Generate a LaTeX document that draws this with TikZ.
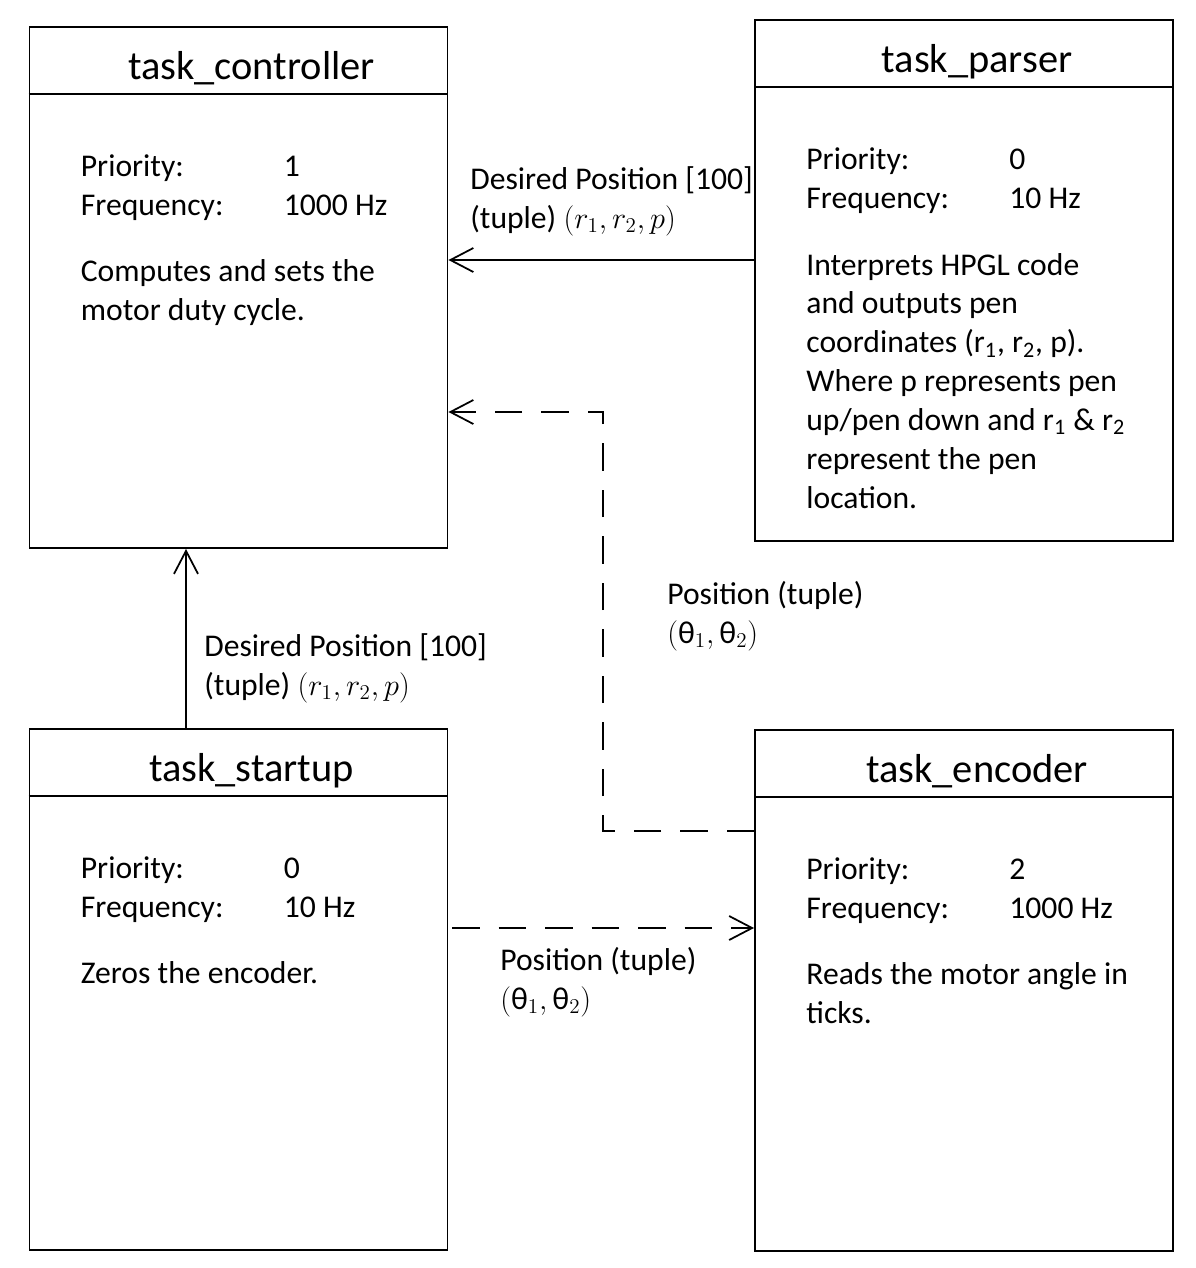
\documentclass[tikz,border=0pt]{standalone}
\usepackage{amsmath}
\usepackage{fontspec}
\setmainfont{Carlito}
\usetikzlibrary{arrows.meta, positioning, calc}
\definecolor{InkBlack}{HTML}{000000}
\newcommand{\sub}[1]{\textsubscript{#1}}
\begin{document}
\begin{tikzpicture}[
    taskbox/.style={draw=InkBlack, line width=1.1pt, minimum width=8.36cm,
                    minimum height=10.42cm, inner sep=0pt},
    tasktitle/.style={font=\fontsize{23}{28}\selectfont, inner sep=0pt, anchor=base},
    infotext/.style={font=\fontsize{18}{22.1}\selectfont, align=left,
                     inner sep=0pt, anchor=base west},
    flow/.style={line width=1pt, -{Straight Barb[length=4.6mm,width=4.8mm]}},
    flowdash/.style={flow, dash pattern=on 0.55cm off 0.38cm}
]
\useasboundingbox (0,0) rectangle (23.92,-25.36);

% task boxes
\node[taskbox] (ctrl)    at (4.77,-5.75)   {};
\node[taskbox] (parser)  at (19.28,-5.61)  {};
\node[taskbox] (startup) at (4.77,-19.79)  {};
\node[taskbox] (encoder) at (19.28,-19.81) {};

% header lines
\foreach \b in {ctrl, parser, startup, encoder}
  \draw[line width=1.1pt] ([yshift=-1.36cm]\b.north west) -- ([yshift=-1.36cm]\b.north east);

% titles (base line of text)
\node[tasktitle] (ctrltitle)    at ([xshift=0.26cm,yshift=-1.06cm]ctrl.north)    {task\_controller};
\node[tasktitle] (parsertitle)  at ([xshift=0.26cm,yshift=-1.06cm]parser.north)  {task\_parser};
\node[tasktitle] (starttitle)   at ([xshift=0.26cm,yshift=-1.06cm]startup.north) {task\_startup};
\node[tasktitle] (enctitle)     at ([xshift=0.26cm,yshift=-1.06cm]encoder.north) {task\_encoder};

% controller (anchor sits on the last line)
\node[infotext] (ctrlkeys) at ($(ctrl.north west)+(1.04,-3.78)$) {Priority:\\Frequency:};
\node[infotext] (ctrlvals) at ($(ctrl.north west)+(5.1,-3.78)$) {1\\1000 Hz};
\node[infotext] (ctrldesc) at ($(ctrl.north west)+(1.04,-5.88)$)
    {Computes and sets the\\motor duty cycle.};

% parser
\node[infotext] (parserkeys) at ($(parser.north west)+(1.04,-3.78)$) {Priority:\\Frequency:};
\node[infotext] (parservals) at ($(parser.north west)+(5.1,-3.78)$) {0\\10 Hz};
\node[infotext] (parserdesc) at ($(parser.north west)+(1.04,-9.78)$)
    {Interprets HPGL code\\and outputs pen\\coordinates (r\sub{1}, r\sub{2}, p).\\
     Where p represents pen\\up/pen down and r\sub{1} \& r\sub{2}\\represent the pen\\location.};

% startup
\node[infotext] (startkeys) at ($(startup.north west)+(1.04,-3.78)$) {Priority:\\Frequency:};
\node[infotext] (startvals) at ($(startup.north west)+(5.1,-3.78)$) {0\\10 Hz};
\node[infotext] (startdesc) at ($(startup.north west)+(1.04,-5.1)$) {Zeros the encoder.};

% encoder
\node[infotext] (enckeys) at ($(encoder.north west)+(1.04,-3.78)$) {Priority:\\Frequency:};
\node[infotext] (encvals) at ($(encoder.north west)+(5.1,-3.78)$) {2\\1000 Hz};
\node[infotext] (encdesc) at ($(encoder.north west)+(1.04,-5.88)$)
    {Reads the motor angle in\\ticks.};

% connectors
\coordinate (bendtop) at (12.06,-8.24);
\coordinate (bendlow) at (12.06,-16.62);
\coordinate (zerostart) at (9.04,-18.56);
\draw[flow] (parser.west |- 0,-5.2) -- (ctrl.east |- 0,-5.2);
\draw[flowdash] (encoder.west |- bendlow) -- (bendlow) -- (bendtop) -- (ctrl.east |- bendtop);
\draw[flow] (startup.north -| 3.72,0) -- (ctrl.south -| 3.72,0);
\draw[flowdash] (zerostart) -- (encoder.west |- zerostart);

% labels
\node[infotext] (lblparse) at (9.4,-4.56)
    {Desired Position [100]\\(tuple) $(r_1, r_2, p)$};
\node[infotext] (lblstart) at (4.08,-13.9)
    {Desired Position [100]\\(tuple) $(r_1, r_2, p)$};
\node[infotext] (lblenc) at (13.34,-12.86)
    {Position (tuple)\\$(\text{θ}_1, \text{θ}_2)$};
\node[infotext] (lblzero) at (10.0,-20.18)
    {Position (tuple)\\$(\text{θ}_1, \text{θ}_2)$};
\end{tikzpicture}
\end{document}
